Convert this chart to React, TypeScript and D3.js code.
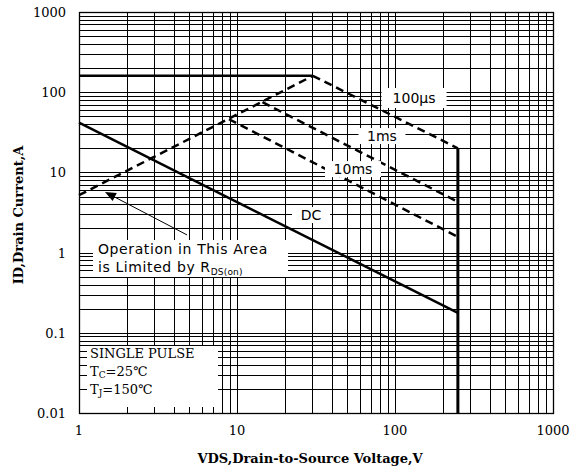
import React from 'react';
import * as d3 from 'd3';

// axis ticks
const xTicks = [1, 10, 100, 1000];
const yTicks = [0.01, 0.1, 1, 10, 100, 1000];
const yTickLabels = ['0.01', '0.1', '1', '10', '100', '1000'];

// SOA boundaries, [VDS, ID]
const limitV = [1, 30.2];
const limitI = [160, 160];
const rdsV = [1, 30.2];
const rdsI = [5.2, 160];
const us100V = [30.2, 250];
const us100I = [160, 20];
const ms1V = [14.5, 250];
const ms1I = [75, 4.3];
const ms10V = [8.9, 250];
const ms10I = [46, 1.57];
const dcV = [1, 250];
const dcI = [41.7, 0.177];
const bvV = [250, 250];
const bvI = [20, 0.01];

// labels sitting on the curves: [text, VDS, ID]
const curveLabels: [string, number, number][] = [
  ['100µs', 132, 84.7],
  ['1ms', 82.7, 28.4],
  ['10ms', 54.2, 11.0],
  ['DC', 29.4, 2.94],
];

// arrow for the Rds(on) note, from/to [VDS, ID]
const arrowFrom = [4.83, 1.66];
const arrowTo = [1.46, 5.7];

const W = 572;
const H = 469;

const x = d3.scaleLog().domain([1, 1000]).range([79, 553]);
const y = d3.scaleLog().domain([0.01, 1000]).range([413, 12]);

const pts = (vs: number[], is: number[]) => vs.map((v, i) => [v, is[i]] as [number, number]);
const line = d3.line<[number, number]>().x((d) => x(d[0])).y((d) => y(d[1]));

// every 1..9 x 10^k between the ends
const logGrid = (lo: number, hi: number) => {
  const out: number[] = [];
  for (let p = Math.log10(lo); p < Math.log10(hi); p++) {
    for (let m = 1; m < 10; m++) out.push(m * Math.pow(10, p));
  }
  out.push(hi);
  return out;
};

const serif = '"DejaVu Serif", serif';
const sans = '"DejaVu Sans", sans-serif';

export default function App() {
  const xs = logGrid(1, 1000);
  const ys = logGrid(0.01, 1000);
  const [x0, x1] = x.range();
  const [y0, y1] = y.range();

  const dashed = { fill: 'none', stroke: '#000', strokeWidth: 2.5, strokeDasharray: '8 5' };
  const solid = { fill: 'none', stroke: '#000', strokeWidth: 2.5 };

  // arrowhead
  const ax0 = x(arrowFrom[0]), ay0 = y(arrowFrom[1]);
  const ax1 = x(arrowTo[0]), ay1 = y(arrowTo[1]);
  const ang = Math.atan2(ay1 - ay0, ax1 - ax0);
  const hl = 11, hw = 4.5;
  const bx = ax1 - hl * Math.cos(ang), by = ay1 - hl * Math.sin(ang);
  const head = [
    [ax1, ay1],
    [bx + hw * Math.sin(ang), by - hw * Math.cos(ang)],
    [bx - hw * Math.sin(ang), by + hw * Math.cos(ang)],
  ].map((p) => p.join(',')).join(' ');

  return (
    <svg width={W} height={H} style={{ position: 'absolute', left: 0, top: 0, background: '#fff' }}>
      <rect width={W} height={H} fill="#fff" />
      {/* grid */}
      <g stroke="#000" strokeWidth={1} shapeRendering="crispEdges">
        {xs.map((v) => (
          <line key={'x' + v} x1={Math.round(x(v)) + 0.5} x2={Math.round(x(v)) + 0.5} y1={y0} y2={y1} />
        ))}
        {ys.map((v) => (
          <line key={'y' + v} y1={Math.round(y(v)) + 0.5} y2={Math.round(y(v)) + 0.5} x1={x0} x2={x1} />
        ))}
      </g>

      {/* white note boxes over the grid */}
      <rect x={87} y={346} width={131} height={61} fill="#fff" />
      <rect x={93} y={240} width={195} height={37} fill="#fff" />

      {/* curves */}
      <path d={line(pts(limitV, limitI)) || ''} style={solid} />
      <path d={line(pts(rdsV, rdsI)) || ''} style={dashed} />
      <path d={line(pts(us100V, us100I)) || ''} style={dashed} />
      <path d={line(pts(ms1V, ms1I)) || ''} style={dashed} />
      <path d={line(pts(ms10V, ms10I)) || ''} style={dashed} />
      <path d={line(pts(dcV, dcI)) || ''} style={solid} />
      <path d={line(pts(bvV, bvI)) || ''} style={{ ...solid, strokeWidth: 3 }} />

      {/* curve labels */}
      {curveLabels.map(([t, v, i]) => {
        const w = t.length * 9 + 20;
        const h = t.length > 4 ? 20 : 16;
        return (
          <g key={t} transform={`translate(${x(v)},${y(i)})`}>
            <rect x={-w / 2} y={-h / 2} width={w} height={h} fill="#fff" />
            <text textAnchor="middle" dy={5} fontFamily={sans} fontSize={14}>{t}</text>
          </g>
        );
      })}

      {/* Rds(on) note */}
      <line x1={ax0} y1={ay0} x2={bx} y2={by} stroke="#000" strokeWidth={1} />
      <polygon points={head} fill="#000" />
      <text x={98} y={254} fontFamily={sans} fontSize={14} letterSpacing={0.6}>Operation in This Area</text>
      <text x={98} y={272} fontFamily={sans} fontSize={14} letterSpacing={0.6}>
        is Limited by R<tspan fontSize={9} dy={3} letterSpacing={0.2}>DS(on)</tspan>
      </text>

      {/* test conditions */}
      <g fontFamily={serif} fontSize={13}>
        <text x={90} y={358}>SINGLE PULSE</text>
        <text x={90} y={376}>T<tspan fontSize={9} dy={2}>C</tspan><tspan dy={-2}>=25℃</tspan></text>
        <text x={90} y={394}>T<tspan fontSize={9} dy={2}>J</tspan><tspan dy={-2}>=150℃</tspan></text>
      </g>

      {/* frame */}
      <rect x={x0 + 0.5} y={y1 + 0.5} width={x1 - x0} height={y0 - y1} fill="none" stroke="#000" strokeWidth={1.3} />

      {/* tick labels */}
      <g fontFamily={serif} fontSize={13} fill="#000">
        {xTicks.map((v) => (
          <text key={v} x={x(v)} y={435} textAnchor="middle">{v}</text>
        ))}
        {yTicks.map((v, i) => (
          <text key={v} x={66} y={y(v) + 5} textAnchor="end">{yTickLabels[i]}</text>
        ))}
      </g>

      {/* axis titles */}
      <text x={310} y={463} textAnchor="middle" fontFamily={serif} fontWeight="bold" fontSize={13}>
        VDS,Drain-to-Source Voltage,V
      </text>
      <text transform="translate(23,215) rotate(-90)" textAnchor="middle" fontFamily={serif} fontWeight="bold" fontSize={13}>
        ID,Drain Current,A
      </text>
    </svg>
  );
}
